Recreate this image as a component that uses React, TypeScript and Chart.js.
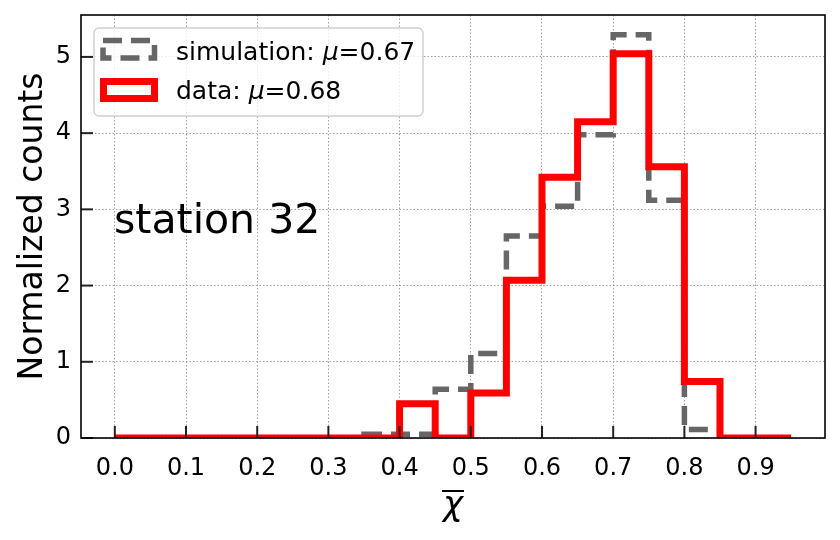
import { useEffect, useRef } from "react";
import { Chart, registerables, ChartConfiguration, Plugin } from "chart.js";

Chart.register(...registerables);

// histogram bins: 19 bins of width 0.05 starting at 0
const binStart = 0;
const binWidth = 0.05;
const simulationCounts = [0, 0, 0, 0, 0, 0, 0, 0.05, 0.05, 0.64, 1.11, 2.65, 3.04, 3.98, 5.29, 3.12, 0.11, 0, 0];
const dataCounts = [0, 0, 0, 0, 0, 0, 0, 0, 0.45, 0, 0.59, 2.07, 3.42, 4.15, 5.04, 3.56, 0.74, 0, 0];

const seriesLabels = ["simulation", "data"];
const seriesMeans = [0.67, 0.68];
const seriesColors = ["#666666", "#ff0000"];

const xTicks = [0, 0.1, 0.2, 0.3, 0.4, 0.5, 0.6, 0.7, 0.8, 0.9];
const yTicks = [0, 1, 2, 3, 4, 5];
const xMin = -0.0475;
const xMax = 0.9975;
const yMax = 5.55;

const stationLabel = "station 32";
const yTitle = "Normalized counts";

const FONT = "'DejaVu Sans', sans-serif";

// turns bin counts into an unclosed step outline (like histtype="step")
function stepPoints(counts: number[]) {
  const pts = [{ x: binStart, y: 0 }];
  counts.forEach((c, i) => pts.push({ x: binStart + i * binWidth, y: c }));
  const end = binStart + counts.length * binWidth;
  pts.push({ x: end, y: counts[counts.length - 1] });
  pts.push({ x: end, y: 0 });
  return pts;
}

const decorations: Plugin = {
  id: "decorations",
  afterDraw(chart) {
    const { ctx, chartArea } = chart;
    const { left, right, top, bottom } = chartArea;
    const xs = chart.scales.x;
    const ys = chart.scales.y;
    ctx.save();

    // inward ticks
    ctx.strokeStyle = "#222";
    ctx.lineWidth = 2;
    ctx.setLineDash([]);
    xTicks.forEach((v) => {
      const px = xs.getPixelForValue(v);
      ctx.beginPath();
      ctx.moveTo(px, bottom);
      ctx.lineTo(px, bottom - 12);
      ctx.stroke();
    });
    yTicks.forEach((v) => {
      const py = ys.getPixelForValue(v);
      ctx.beginPath();
      ctx.moveTo(left, py);
      ctx.lineTo(left + 12, py);
      ctx.stroke();
    });

    // frame
    ctx.strokeStyle = "#000";
    ctx.lineWidth = 1.6;
    ctx.strokeRect(left, top, right - left, bottom - top);

    // legend
    const lx = 94, ly = 28, lw = 329, lh = 88;
    ctx.beginPath();
    ctx.roundRect(lx, ly, lw, lh, 5);
    ctx.fillStyle = "rgba(255,255,255,0.8)";
    ctx.fill();
    ctx.strokeStyle = "#d0d0d0";
    ctx.lineWidth = 1.5;
    ctx.stroke();

    ctx.lineJoin = "miter";
    ctx.lineCap = "butt";
    ctx.strokeStyle = seriesColors[0];
    ctx.lineWidth = 5.5;
    ctx.setLineDash([19, 9]);
    ctx.strokeRect(103, 40.5, 51.5, 17.5);
    ctx.setLineDash([]);
    ctx.strokeStyle = seriesColors[1];
    ctx.lineWidth = 7;
    ctx.strokeRect(103.5, 81.5, 51, 17);

    const baselines = [60, 99];
    ctx.fillStyle = "#000";
    ctx.textBaseline = "alphabetic";
    ctx.textAlign = "left";
    seriesLabels.forEach((lab, i) => {
      let x = 176;
      const y = baselines[i];
      const parts: [string, string][] = [
        [`25px ${FONT}`, `${lab}: `],
        [`italic 25px ${FONT}`, "\u03bc"],
        [`25px ${FONT}`, `=${seriesMeans[i].toFixed(2)}`],
      ];
      parts.forEach(([f, t]) => {
        ctx.font = f;
        ctx.fillText(t, x, y);
        x += ctx.measureText(t).width;
      });
    });

    // station annotation
    ctx.font = `41px ${FONT}`;
    ctx.fillText(stationLabel, 114, 233);

    // y title
    ctx.save();
    ctx.translate(42, (top + bottom) / 2);
    ctx.rotate(-Math.PI / 2);
    ctx.textAlign = "center";
    ctx.font = `33px ${FONT}`;
    ctx.fillText(yTitle, 0, 0);
    ctx.restore();

    // x title: chi with overline
    const cx = (left + right) / 2;
    ctx.textAlign = "center";
    ctx.font = `italic 34px ${FONT}`;
    ctx.fillText("\u03c7", cx, 515);
    ctx.strokeStyle = "#000";
    ctx.lineWidth = 2;
    ctx.beginPath();
    ctx.moveTo(cx - 11, 491);
    ctx.lineTo(cx + 11, 491);
    ctx.stroke();

    ctx.restore();
  },
};

const App: React.FC = () => {
  const chartRef = useRef<HTMLCanvasElement | null>(null);

  useEffect(() => {
    if (!chartRef.current) return;
    const ctx = chartRef.current.getContext("2d");
    if (!ctx) return;

    const config: ChartConfiguration<"line"> = {
      type: "line",
      data: {
        datasets: [
          {
            label: seriesLabels[0],
            data: stepPoints(simulationCounts),
            borderColor: seriesColors[0],
            borderWidth: 5.5,
            borderDash: [19, 9],
            borderCapStyle: "butt",
            borderJoinStyle: "miter",
            stepped: true,
            pointRadius: 0,
            fill: false,
            clip: 0,
            order: 1,
          },
          {
            label: seriesLabels[1],
            data: stepPoints(dataCounts),
            borderColor: seriesColors[1],
            borderWidth: 7,
            borderCapStyle: "butt",
            borderJoinStyle: "miter",
            stepped: true,
            pointRadius: 0,
            fill: false,
            clip: 0,
            order: 0,
          },
        ],
      },
      options: {
        animation: false,
        responsive: true,
        maintainAspectRatio: false,
        layout: { padding: { left: 0, top: 15, right: 15, bottom: 0 } },
        plugins: {
          legend: { display: false },
          tooltip: { enabled: false },
        },
        scales: {
          x: {
            type: "linear",
            min: xMin,
            max: xMax,
            afterBuildTicks: (scale) => {
              scale.ticks = xTicks.map((v) => ({ value: v }));
            },
            afterFit: (scale) => {
              scale.height = 102;
              scale.paddingLeft = 0;
              scale.paddingRight = 0;
            },
            ticks: {
              callback: (v) => Number(v).toFixed(1),
              font: { family: FONT, size: 24 },
              color: "#000",
              padding: 16,
              maxRotation: 0,
              autoSkip: false,
            },
            grid: { color: "#8a8a8a", lineWidth: 0.8, drawTicks: false },
            border: { display: false, dash: [1.5, 2] },
          },
          y: {
            type: "linear",
            min: 0,
            max: yMax,
            afterBuildTicks: (scale) => {
              scale.ticks = yTicks.map((v) => ({ value: v }));
            },
            afterFit: (scale) => {
              scale.width = 81;
              scale.paddingTop = 0;
              scale.paddingBottom = 0;
            },
            ticks: {
              callback: (v) => String(v),
              font: { family: FONT, size: 24 },
              color: "#000",
              padding: 10,
              autoSkip: false,
            },
            grid: { color: "#8a8a8a", lineWidth: 0.8, drawTicks: false },
            border: { display: false, dash: [1.5, 2] },
          },
        },
      },
      plugins: [decorations],
    };

    const chart = new Chart(ctx, config);
    return () => {
      chart.destroy();
    };
  }, []);

  return (
    <div style={{ position: "fixed", left: 0, top: 0, width: "840px", height: "540px", background: "#fff" }}>
      <canvas ref={chartRef}></canvas>
    </div>
  );
};

export default App;
